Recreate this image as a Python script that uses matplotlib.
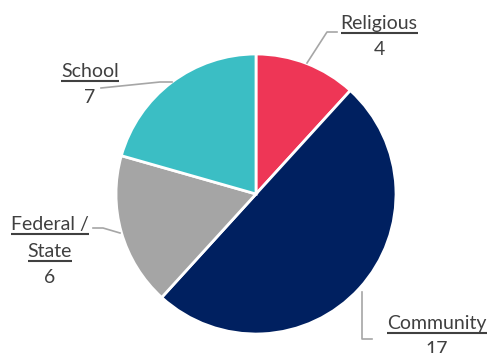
import matplotlib
matplotlib.use("Agg")
import matplotlib.pyplot as plt
import numpy as np

categories = ["Religious", "Community", "Federal /\nState", "School"]
values = [4, 17, 6, 7]
colors = ["#EE3656", "#002060", "#A5A5A5", "#3BBEC4"]

W, H = 489, 353
fig = plt.figure(figsize=(W / 100, H / 100), dpi=100)
ax = fig.add_axes([0, 0, 1, 1])

cx, cy, r = 256, H - 194, 140
wedges, _ = ax.pie(values, colors=colors, startangle=90, counterclock=False,
                   radius=r, center=(cx, cy), frame=True,
                   wedgeprops=dict(edgecolor="white", linewidth=2))
ax.set_xlim(0, W)
ax.set_ylim(0, H)
ax.set_aspect("equal")
ax.axis("off")

txtc = "#404040"
lc = "#A6A6A6"
font = "Lato"
fs = 14

# x center, first-line baseline (pixel from top), leader path pixels
layout = {
    "Religious": dict(x=379, y=29, path=[(337, 32), (327, 32), (307, 63)]),
    "School": dict(x=90, y=77, path=[(101, 88), (160, 82), (172, 82)]),
    "Federal /\nState": dict(x=50, y=230, path=[(93, 228), (103, 228), (120, 233)]),
    "Community": dict(x=437, y=329, path=[(372, 339), (362, 339), (362, 292)]),
}
line_h = 27

fig.canvas.draw()
renderer = fig.canvas.get_renderer()
inv = ax.transData.inverted()

for cat, val in zip(categories, values):
    L = layout[cat]
    lines = cat.split("\n")
    y = L["y"]
    for ln in lines:
        t = ax.text(L["x"], H - y, ln, ha="center", va="baseline", fontsize=fs,
                    family=font, color=txtc)
        bb = t.get_window_extent(renderer)
        (x0, y0), (x1, y1) = inv.transform([(bb.x0, bb.y0), (bb.x1, bb.y1)])
        uy = H - (y + 3.5)
        ax.plot([x0, x1], [uy, uy], color=txtc, lw=1.5, solid_capstyle="butt")
        y += line_h
    ax.text(L["x"], H - (y - 1), str(val), ha="center", va="baseline", fontsize=fs,
            family=font, color=txtc)
    px = [p[0] for p in L["path"]]
    py = [H - p[1] for p in L["path"]]
    ax.plot(px, py, color=lc, lw=1.2)

fig.savefig("out.png", dpi=100)
